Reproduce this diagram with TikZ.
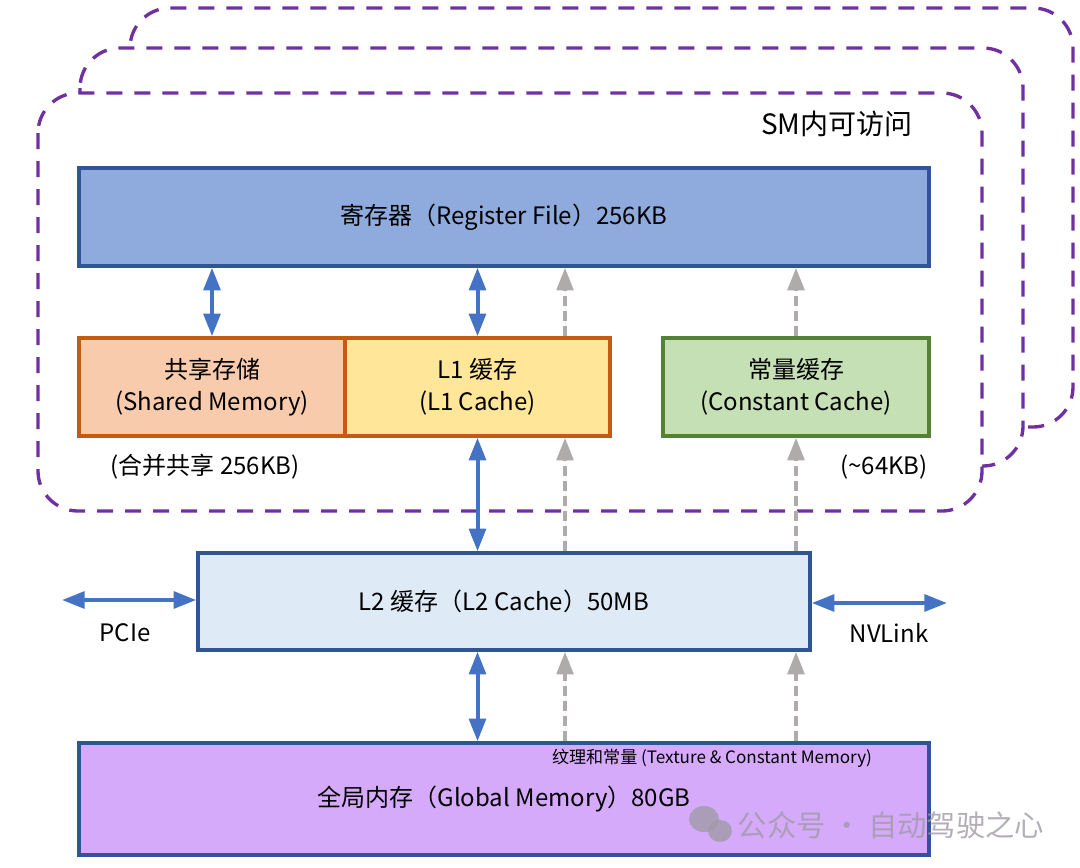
\documentclass[tikz,border=0pt]{standalone}
\usepackage{fontspec}
\setmainfont{Noto Sans CJK SC}
\usetikzlibrary{arrows.meta,calc}
\definecolor{regfill}{HTML}{8FAADC}
\definecolor{darkblue}{HTML}{2F5597}
\definecolor{shfill}{HTML}{F8CBAD}
\definecolor{orangeb}{HTML}{C55A11}
\definecolor{l1fill}{HTML}{FFE699}
\definecolor{cfill}{HTML}{C5E0B4}
\definecolor{greenb}{HTML}{548235}
\definecolor{l2fill}{HTML}{DEEBF7}
\definecolor{gfill}{HTML}{D5AAFB}
\definecolor{arrowblue}{HTML}{4472C4}
\definecolor{arrowgray}{HTML}{AFABAB}
\definecolor{smpurple}{HTML}{7030A0}
\definecolor{wmgray}{HTML}{A09AA6}
\tikzset{
  membox/.style={draw, line width=2.6pt, inner sep=0pt, align=center, font=\fontsize{18}{24}\selectfont},
  smbox/.style={draw=smpurple, fill=white, line width=2.5pt, dash pattern=on 12pt off 9pt, rounded corners=30pt},
  barrow/.style={draw=arrowblue, line width=3pt, {Triangle[length=17pt,width=12.5pt]}-{Triangle[length=17pt,width=12.5pt]}},
  garrow/.style={draw=arrowgray, fill=arrowgray, line width=2.8pt, dash pattern=on 7.5pt off 3.75pt, -{Triangle[length=17pt,width=12.5pt]}},
  lbl/.style={inner sep=0pt, font=\fontsize{18}{24}\selectfont}
}
\begin{document}
\begin{tikzpicture}[x=0.75pt,y=-0.75pt]
\useasboundingbox (0,0) rectangle (1080,867);
% SM dashed frames (back to front)
\draw[smbox] (130,8) rectangle (1073,427);
\draw[smbox] (80,48) rectangle (1023,466);
\draw[smbox] (38,93) rectangle (982,511);
\node[lbl, font=\fontsize{21}{25}\selectfont] (smlabel) at (837,124) {SM内可访问};

% memory boxes
\node[membox, fill=regfill, draw=darkblue, minimum width=637.5pt, minimum height=73.5pt] (reg) at (504,217) {寄存器（Register File）256KB};
\node[membox, fill=shfill, draw=orangeb, minimum width=199.5pt, minimum height=73.5pt] (sh) at (212,387) {共享存储\\(Shared Memory)};
\node[membox, fill=l1fill, draw=orangeb, minimum width=198.75pt, minimum height=73.5pt] (l1) at (477.5,387) {L1 缓存\\(L1 Cache)};
\node[membox, fill=cfill, draw=greenb, minimum width=199.5pt, minimum height=73.5pt] (cc) at (796,387) {常量缓存\\(Constant Cache)};
\node[lbl] (shsize) at (205,467) {(合并共享 256KB)};
\node[lbl] (ccsize) at (884,467) {(\textasciitilde64KB)};

\node[membox, fill=l2fill, draw=darkblue, minimum width=459pt, minimum height=72.75pt] (l2) at (504,601.5) {L2 缓存（L2 Cache）50MB};
\node[membox, fill=gfill, draw=darkblue, minimum width=637.5pt, minimum height=84pt] (glob) at (504,799) {\raisebox{-2pt}{全局内存（Global Memory）80GB}};
\node[lbl, font=\fontsize{12.8}{15}\selectfont] (texlbl) at (712,758) {纹理和常量 (Texture \& Constant Memory)};

% columns for gray dashed arrows
\coordinate (g1) at (565,0);
\coordinate (g2) at (796,0);

% blue arrows
\draw[barrow] (sh.north) -- (sh.north |- reg.south);
\draw[barrow] (l1.north) -- (l1.north |- reg.south);
\draw[barrow] (l1.south) -- (l1.south |- l2.north);
\draw[barrow] (l1.south |- l2.south) -- (l1.south |- glob.north);

% gray dashed arrows
\draw[garrow] (g1 |- l1.north) -- (g1 |- reg.south);
\draw[garrow] (g1 |- l2.north) -- (g1 |- l1.south);
\draw[garrow] (g1 |- glob.north) -- (g1 |- l2.south);
\draw[garrow] (g2 |- cc.north) -- (g2 |- reg.south);
\draw[garrow] (g2 |- l2.north) -- (g2 |- cc.south);
\draw[garrow] (g2 |- glob.north) -- (g2 |- l2.south);

% external links
\coordinate (pcieend) at (62,600);
\coordinate (nvend) at (947,603);
\draw[barrow] (pcieend) -- (pcieend -| l2.west);
\draw[barrow] (nvend -| l2.east) -- (nvend);
\node[lbl] (pcie) at (125,633) {PCIe};
\node[lbl] (nvlink) at (889,633) {NVLink};

% watermark
\fill[wmgray, opacity=0.8] (704,819) ellipse (15 and 13);
\fill[wmgray, opacity=0.8] (720,831) ellipse (12 and 11);
\node[lbl, text=wmgray, opacity=0.8, font=\fontsize{22}{26}\selectfont] (wm) at (891,825) {公众号 · 自动驾驶之心};
\end{tikzpicture}
\end{document}
